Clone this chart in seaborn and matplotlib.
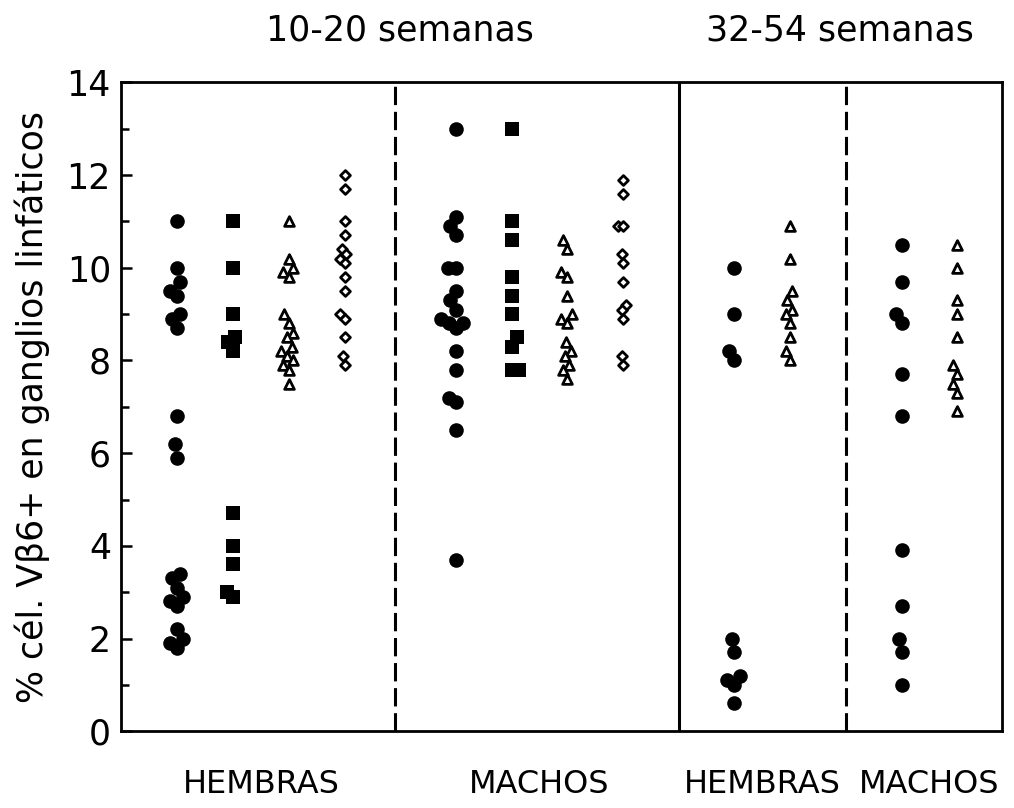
import numpy as np
import pandas as pd
import matplotlib
matplotlib.use("Agg")
import matplotlib.pyplot as plt
import matplotlib.transforms as mtransforms
from matplotlib.ticker import MultipleLocator
import seaborn as sns

# % of Vbeta6+ cells in lymph nodes, per animal
# 10-20 weeks, females
h_jov_circulos = [11.0, 10.0, 9.7, 9.5, 9.4, 9.0, 8.9, 8.7, 6.8, 6.2, 5.9,
                  3.4, 3.3, 3.1, 2.9, 2.8, 2.7, 2.2, 2.0, 1.9, 1.8]
h_jov_cuadrados = [11.0, 10.0, 9.0, 8.5, 8.4, 8.2, 4.7, 4.0, 3.6, 3.0, 2.9]
h_jov_triangulos = [11.0, 10.2, 10.0, 9.9, 9.8, 9.0, 8.8, 8.6, 8.5, 8.3,
                    8.2, 8.1, 8.0, 7.9, 7.8, 7.5]
h_jov_rombos = [12.0, 11.7, 11.0, 10.7, 10.4, 10.3, 10.2, 10.1, 9.8, 9.5,
                9.0, 8.9, 8.5, 8.1, 7.9]
# 10-20 weeks, males
m_jov_circulos = [13.0, 11.1, 10.9, 10.7, 10.0, 10.0, 9.5, 9.3, 9.1, 8.9,
                  8.8, 8.8, 8.7, 8.2, 7.8, 7.2, 7.1, 6.5, 3.7]
m_jov_cuadrados = [13.0, 11.0, 10.6, 9.8, 9.4, 9.0, 8.5, 8.3, 7.8, 7.8]
m_jov_triangulos = [10.6, 10.4, 9.9, 9.8, 9.4, 9.0, 8.9, 8.8, 8.4, 8.2,
                    8.1, 7.9, 7.8, 7.6]
m_jov_rombos = [11.9, 11.6, 10.9, 10.9, 10.3, 10.1, 9.7, 9.2, 9.1, 8.9,
                8.1, 7.9]
# 32-54 weeks, females
h_adu_circulos = [10.0, 9.0, 8.2, 8.0, 2.0, 1.7, 1.2, 1.1, 1.0, 0.6]
h_adu_triangulos = [10.9, 10.2, 9.5, 9.3, 9.1, 9.0, 8.8, 8.5, 8.2, 8.0]
# 32-54 weeks, males
m_adu_circulos = [10.5, 9.7, 9.0, 8.8, 7.7, 6.8, 3.9, 2.7, 2.0, 1.7, 1.0]
m_adu_triangulos = [10.5, 10.0, 9.3, 9.0, 8.5, 7.9, 7.7, 7.5, 7.3, 6.9]

grupos_edad = ["10-20 semanas", "32-54 semanas"]
sexos = ["HEMBRAS", "MACHOS", "HEMBRAS", "MACHOS"]

# (column slot, marker kind, values)
columnas = [
    (0, "circulo", h_jov_circulos), (1, "cuadrado", h_jov_cuadrados),
    (2, "triangulo", h_jov_triangulos), (3, "rombo", h_jov_rombos),
    (5, "circulo", m_jov_circulos), (6, "cuadrado", m_jov_cuadrados),
    (7, "triangulo", m_jov_triangulos), (8, "rombo", m_jov_rombos),
    (10, "circulo", h_adu_circulos), (11, "triangulo", h_adu_triangulos),
    (13, "circulo", m_adu_circulos), (14, "triangulo", m_adu_triangulos),
]
df = pd.DataFrame(
    [(pos, tipo, v) for pos, tipo, vals in columnas for v in vals],
    columns=["pos", "tipo", "valor"],
)
posiciones = np.array(sorted({pos for pos, _, _ in columnas}), dtype=float)

estilos = {
    "circulo": dict(marker="o", size=10.5, color="black", linewidth=0),
    "cuadrado": dict(marker="s", size=9.5, color="black", linewidth=0),
    "triangulo": dict(marker="^", size=7.0, color="white",
                      edgecolor="black", linewidth=2.0),
    "rombo": dict(marker="D", size=5.0, color="white",
                  edgecolor="black", linewidth=2.0),
}

sns.set_theme(style="white")
plt.rcParams["font.family"] = ["DejaVu Sans"]
plt.rcParams["text.color"] = "black"
plt.rcParams["axes.labelcolor"] = "black"
plt.rcParams["xtick.color"] = "black"
plt.rcParams["ytick.color"] = "black"

fig = plt.figure(figsize=(10.14, 8.08), dpi=100)
ax = fig.add_axes([0.119, 0.095, 0.869, 0.803])

for tipo, kw in estilos.items():
    sub = df[df["tipo"] == tipo]
    sns.swarmplot(data=sub, x="pos", y="valor", native_scale=True,
                  orient="x", ax=ax, **kw)

# separators between sex groups and age groups
ax.axvline(3.9, color="black", lw=2.2, ls=(0, (6, 2.2)))
ax.axvline(9.0, color="black", lw=2.2)
ax.axvline(12.0, color="black", lw=2.2, ls=(0, (6, 2.2)))

ax.set_xlim(-1.02, 14.8)
ax.set_ylim(0, 14)

ax.yaxis.set_major_locator(MultipleLocator(2))
ax.yaxis.set_minor_locator(MultipleLocator(1))
ax.tick_params(axis="y", which="major", direction="in", length=8, width=1.8,
               labelsize=25, pad=7, left=True)
ax.tick_params(axis="y", which="minor", direction="in", length=6, width=1.8,
               left=True)

ax.set_xticks([1.5, 6.5, 10.5, 13.5])
ax.set_xticklabels(sexos, fontsize=23)
ax.tick_params(axis="x", length=0, pad=27)

ax.set_xlabel("")
ax.set_ylabel("% cél. Vβ6+ en ganglios linfáticos", fontsize=25, labelpad=12)

for sp in ax.spines.values():
    sp.set_visible(True)
    sp.set_color("black")
    sp.set_linewidth(2.0)

trans = mtransforms.blended_transform_factory(ax.transData, ax.transAxes)
for xc, txt in zip([4.0, 11.9], grupos_edad):
    ax.text(xc, 1.08, txt, transform=trans, ha="center", va="center",
            fontsize=25)

# resolve the swarm layout once, then pull displaced points halfway back
# toward their column so neighbours overlap a little
fig.canvas.draw()
for coll in list(ax.collections):
    offs = np.array(coll.get_offsets(), dtype=float)
    if len(offs):
        idx = np.abs(offs[:, :1] - posiciones[None, :]).argmin(axis=1)
        centro = posiciones[idx]
        offs[:, 0] = centro + 0.5 * (offs[:, 0] - centro)
        coll.set_offsets(offs)
    if "draw" in coll.__dict__:
        del coll.__dict__["draw"]

fig.savefig("out.png", dpi=100, facecolor="white")
